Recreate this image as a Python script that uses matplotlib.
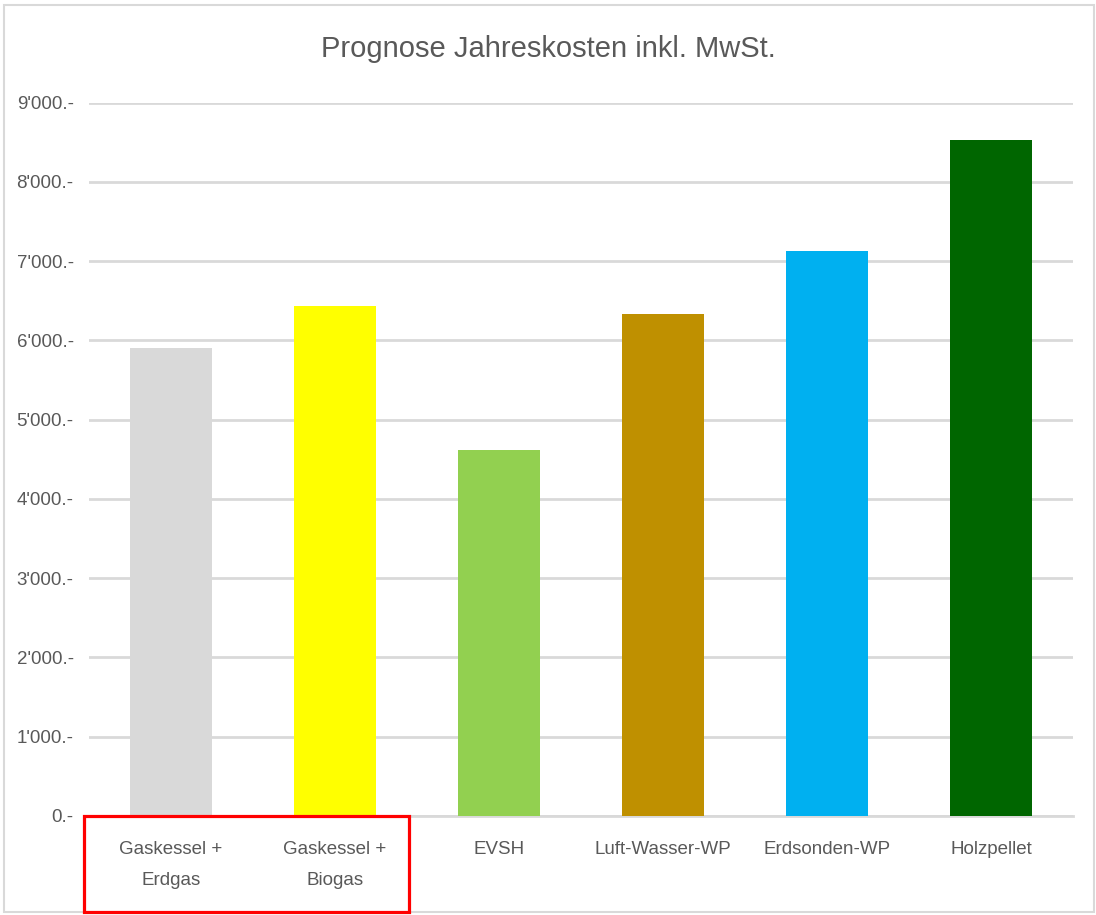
import matplotlib
matplotlib.use('Agg')
import matplotlib.pyplot as plt
from matplotlib.patches import Rectangle
from matplotlib.ticker import FuncFormatter, MultipleLocator

categories = ['Gaskessel +\nErdgas', 'Gaskessel +\nBiogas', 'EVSH',
              'Luft-Wasser-WP', 'Erdsonden-WP', 'Holzpellet']
costs = [5910, 6430, 4620, 6330, 7125, 8530]
bar_colors = ['#D9D9D9', '#FFFF00', '#92D050', '#BF9000', '#00B0F0', '#006600']

plt.rcParams['font.family'] = ['Liberation Sans', 'DejaVu Sans']
text_clr = '#595959'

W, H = 1096, 915
fig = plt.figure(figsize=(W / 100, H / 100), dpi=100)
ax = fig.add_axes([89 / W, 1 - 816 / H, (1073 - 89) / W, (816 - 102.7) / H])

x = list(range(len(categories)))
ax.bar(x, costs, width=0.5, color=bar_colors, zorder=3)
ax.set_xlim(-0.5, len(categories) - 0.5)
ax.set_ylim(0, 9000)
ax.yaxis.set_major_locator(MultipleLocator(1000))
ax.yaxis.set_major_formatter(FuncFormatter(lambda v, p: f"{int(v):,}".replace(',', "'") + '.-'))
ax.grid(axis='y', color='#D9D9D9', linewidth=2, zorder=0)
for s in ['top', 'right', 'left']:
    ax.spines[s].set_visible(False)
ax.spines['bottom'].set_color('#D9D9D9')
ax.spines['bottom'].set_linewidth(2)
ax.set_xticks(x)
ax.set_xticklabels(categories, linespacing=2.05)
ax.tick_params(axis='x', length=0, pad=18, labelsize=13.5, labelcolor=text_clr)
ax.tick_params(axis='y', length=0, pad=11, labelsize=13.5, labelcolor=text_clr)

fig.text(0.5, 1 - 49 / H, 'Prognose Jahreskosten inkl. MwSt.', ha='center', va='center',
         fontsize=21, color=text_clr)

# outer chart frame
fig.patches.append(Rectangle((4 / W, 1 - 912 / H), (1094 - 4) / W, (912 - 5) / H,
                             transform=fig.transFigure, fill=False,
                             edgecolor='#D9D9D9', linewidth=1.5))
# red highlight box round the gas boiler labels
fig.patches.append(Rectangle((84 / W, 1 - 912 / H), (409 - 84) / W, (912 - 816) / H,
                             transform=fig.transFigure, fill=False,
                             edgecolor='#FF0000', linewidth=2.3, zorder=5))

fig.savefig('out.png', dpi=100)
